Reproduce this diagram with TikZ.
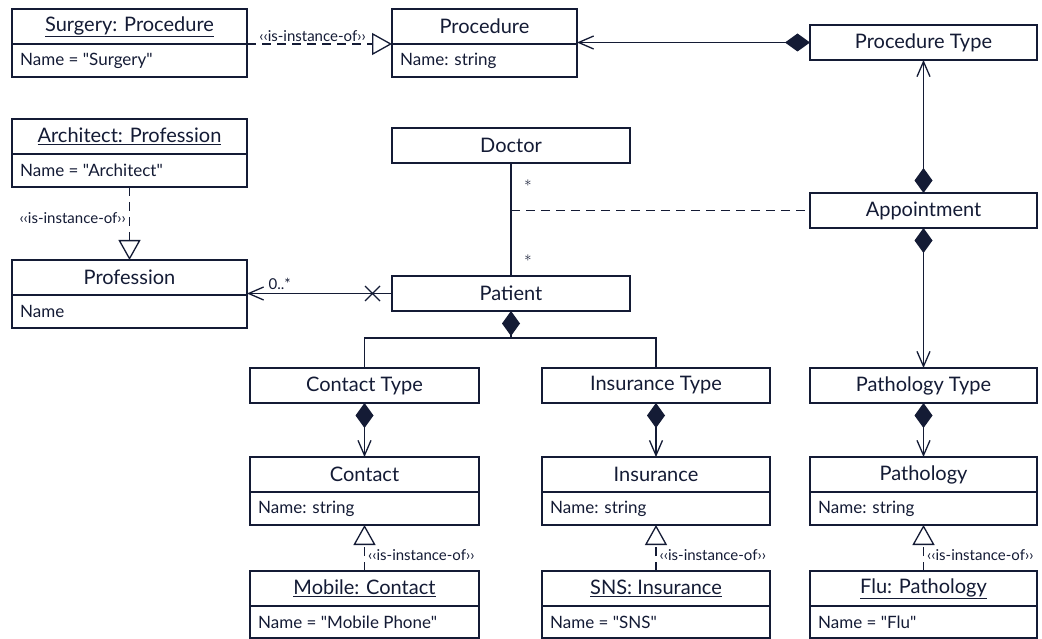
\documentclass[tikz,border=0pt]{standalone}
\usepackage{fontspec}
\setmainfont{Lato}[Ligatures=TeXOff]
\usetikzlibrary{arrows.meta,calc}
\definecolor{ink}{HTML}{141B35}

\tikzset{
  hdr/.style={draw=ink, line width=1.3pt, minimum height=35pt, inner sep=0pt, outer sep=0pt,
    font=\fontsize{20}{24}\selectfont, text=ink},
  attrbox/.style={draw=ink, line width=1.3pt, inner sep=0pt, outer sep=0pt},
  attrtext/.style={anchor=west, inner sep=0pt, font=\fontsize{17}{20}\selectfont, text=ink},
  conn/.style={draw=ink, line width=1.3pt},
  barb/.tip={Straight Barb[length=15pt,width=13pt]},
  comptip/.tip={Diamond[length=25pt,width=18pt]},
  dep/.style={conn, dash pattern=on 9pt off 6pt, -{Triangle[open, length=20pt, width=22pt]}},
  comp/.style={conn, comptip-barb},
  stereo/.style={font=\fontsize{15}{18}\selectfont, text=ink, inner sep=1pt},
  mult/.style={font=\fontsize{15}{18}\selectfont, text=ink, inner sep=1pt},
}

% class with a name compartment and one attribute compartment
% #1 name, #2 left, #3 top, #4 width, #5 title, #6 attribute, #7 attribute height
\newcommand\twopart[7]{%
  \node[hdr, minimum width=#4pt, anchor=north west] (#1) at (#2,#3) {#5};
  \node[attrbox, minimum width=#4pt, minimum height=#7pt, anchor=north west] (#1a) at (#1.south west) {};
  \node[attrtext] (#1t) at ([xshift=8pt]#1a.west) {#6};
}

\begin{document}
\begin{tikzpicture}[x=1pt,y=-1pt]
\path[use as bounding box, fill=white] (0,0) rectangle (1042,639);

% classes and instances
\twopart{surg}{12}{9}{235}{\underline{Surgery: Procedure}}{Name = "Surgery"}{33}
\twopart{proc}{392}{9}{185}{Procedure}{Name: string}{33}
\node[hdr, minimum width=227pt, anchor=north west] (ptype) at (810,25) {Procedure Type};

\twopart{arch}{12}{119}{235}{\underline{Architect: Profession}}{Name = "Architect"}{33}
\twopart{prof}{12}{260}{235}{Profession}{Name}{33}

\node[hdr, minimum width=238pt, anchor=north west] (doctor) at (392,128) {Doctor};
\node[hdr, minimum width=227pt, anchor=north west] (appt) at (810,193) {Appointment};
\node[hdr, minimum width=238pt, anchor=north west] (patient) at (392,276) {Patient};

\node[hdr, minimum width=229pt, anchor=north west] (ctype) at (250,368) {Contact Type};
\node[hdr, minimum width=228pt, anchor=north west] (itype) at (542,368) {Insurance Type};
\node[hdr, minimum width=227pt, anchor=north west] (pathtype) at (810,368) {Pathology Type};

\twopart{contact}{250}{457}{229}{Contact}{Name: string}{33}
\twopart{insur}{542}{457}{228}{Insurance}{Name: string}{33}
\twopart{patho}{810}{457}{227}{Pathology}{Name: string}{33}

\twopart{mobile}{250}{571}{229}{\underline{Mobile: Contact}}{Name = "Mobile Phone"}{32}
\twopart{sns}{542}{571}{228}{\underline{SNS: Insurance}}{Name = "SNS"}{32}
\twopart{flu}{810}{571}{227}{\underline{Flu: Pathology}}{Name = "Flu"}{32}

% instance-of dependencies
\draw[dep] (surga.north east) -- node[stereo, above=1pt, xshift=-7pt] (st1) {‹‹is-instance-of››} (proca.north west);
\draw[dep] (archa.south) -- node[stereo, pos=0.42, anchor=east, xshift=-2pt] (st2) {‹‹is-instance-of››} (prof.north);
\draw[dep] (mobile.north) -- node[stereo, pos=0.35, anchor=west, xshift=2pt] (st3) {‹‹is-instance-of››} (contacta.south);
\draw[dep] (sns.north) -- node[stereo, pos=0.35, anchor=west, xshift=2pt] (st4) {‹‹is-instance-of››} (insura.south);
\draw[dep] (flu.north) -- node[stereo, pos=0.35, anchor=west, xshift=2pt] (st5) {‹‹is-instance-of››} (pathoa.south);

% compositions
\draw[comp] (ptype.west) -- (ptype.west -| proca.north east);
\draw[conn, barb-comptip] (ptype.south) -- (appt.north);
\draw[comp] (appt.south) -- (pathtype.north);
\draw[comp] (ctype.south) -- (contact.north);
\draw[comp] (itype.south) -- (insur.north);
\draw[comp] (pathtype.south) -- (patho.north);

% doctor--patient association with its association class
\draw[conn] (doctor.south) -- node[mult, pos=0.18, xshift=17pt] (m1) {$\ast$}
                              node[mult, pos=0.84, xshift=17pt] (m2) {$\ast$} (patient.north);
\coordinate (mid) at (doctor.south |- appt.west);
\draw[conn, dash pattern=on 9pt off 6pt] (mid) -- (appt.west);

% patient -> profession, not navigable back
\draw[conn, -barb] (patient.west) -- (patient.west -| profa.north east)
  node[mult, pos=1, anchor=south west, xshift=20pt, yshift=2pt] (m3) {0..*};
\coordinate (xm) at ([xshift=-19.5pt]patient.west);
\draw[conn] ([shift={(-7.5pt,-7.5pt)}]xm) -- ([shift={(7.5pt,7.5pt)}]xm)
            ([shift={(-7.5pt,7.5pt)}]xm) -- ([shift={(7.5pt,-7.5pt)}]xm);

% patient composes contact and insurance types
\coordinate (bus) at ($(patient.south)+(0,27)$);
\draw[conn, comptip-] (patient.south) -- (bus);
\draw[conn] (ctype.north) -- (ctype.north |- bus) -- (itype.north |- bus) -- (itype.north);
\end{tikzpicture}
\end{document}
